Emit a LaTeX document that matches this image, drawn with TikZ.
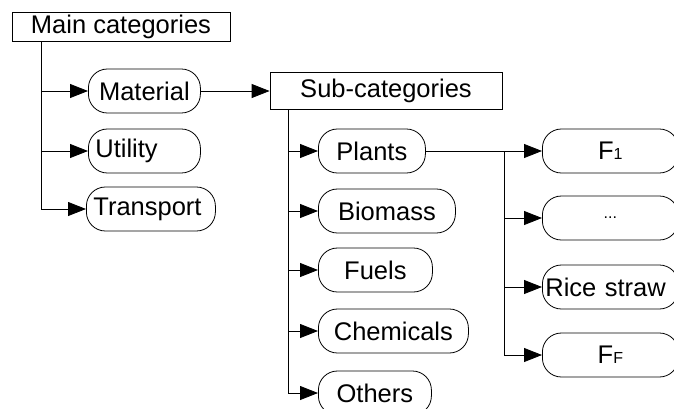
\documentclass[tikz,border=0pt]{standalone}
\usepackage{fontspec}
\setmainfont{Liberation Sans}
\usetikzlibrary{arrows.meta,positioning}
\newcommand{\subf}[1]{{\fontsize{16}{16}\selectfont #1}}

\begin{document}
\begin{tikzpicture}[x=1pt, y=-1pt, line width=0.8pt,
  catbox/.style={draw, inner sep=0pt, font=\fontsize{25.5}{30}\selectfont},
  pill/.style={draw, rounded corners=19pt, minimum height=44pt, inner sep=0pt, anchor=west, font=\fontsize{25.5}{30}\selectfont},
  arr/.style={-{Triangle[length=18pt,width=14pt]}}]
\useasboundingbox (0,0) rectangle (674,408);

% Top level box and its three categories
\node[catbox, minimum width=218pt, minimum height=29pt] (main) at (121,27) {Main categories};
\node[pill, minimum width=112pt] (material) at (88,91) {Material};
\node[pill, minimum width=112pt, text width=98pt, align=left] (utility) at (88,151) {Utility};
\node[pill, minimum width=129pt, text width=115pt, align=left] (transport) at (86,209) {Transport};

\coordinate (mainfoot) at ([xshift=30pt]main.south west);
\draw[arr] (mainfoot) |- (material.west);
\draw[arr] (mainfoot) |- (utility.west);
\draw[arr] (mainfoot) |- (transport.west);

% Sub-categories of the material branch
\node[catbox, minimum width=232pt, minimum height=37pt] (sub) at (386,91) {Sub-categories};
\draw[arr] (material.east) -- (sub.west);

\node[pill, minimum width=107pt] (plants) at (318,151) {Plants};
\node[pill, minimum width=137pt] (biomass) at (318,211) {Biomass};
\node[pill, minimum width=114pt] (fuels) at (318,270) {Fuels};
\node[pill, minimum width=150pt] (chemicals) at (318,331) {Chemicals};
\node[pill, minimum width=113pt] (others) at (318,393) {Others};

\coordinate (subfoot) at ([xshift=19pt]sub.south west);
\foreach \n in {plants,biomass,fuels,chemicals,others}
  \draw[arr] (subfoot) |- (\n.west);

% Items of the plants sub-category
\node[pill, minimum width=136pt] (f1) at (542,151) {F\subf{1}};
\node[pill, minimum width=136pt] (dots) at (542,218) {\fontsize{16}{16}\selectfont ...};
\node[pill, minimum width=136pt, text width=130pt, align=left] (rice) at (542,287) {Rice straw};
\node[pill, minimum width=136pt] (ff) at (542,355) {F\subf{F}};

\draw[arr] (plants.east) -- (f1.west);
\coordinate (plantsfork) at ([xshift=-38pt]f1.west);
\foreach \n in {dots,rice,ff}
  \draw[arr] (plantsfork) |- (\n.west);
\end{tikzpicture}
\end{document}
